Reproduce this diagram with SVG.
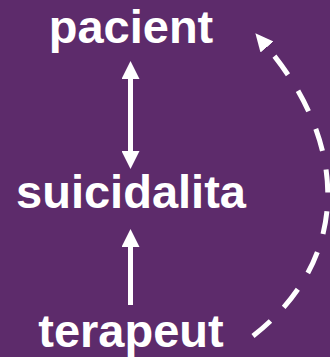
<svg xmlns="http://www.w3.org/2000/svg" width="330" height="357" viewBox="0 0 330 357">
<style>
.lbl{font-family:"Liberation Sans",Arial,sans-serif;font-weight:bold;font-size:47px;fill:#ffffff;text-anchor:middle}
.sh{stroke:#ffffff;stroke-width:5;fill:none}
.dash{stroke:#ffffff;stroke-width:5;fill:none;stroke-dasharray:23 19}
</style>
<defs>
<marker id="ah" markerUnits="userSpaceOnUse" markerWidth="18" markerHeight="18" refX="0" refY="9" orient="auto-start-reverse" viewBox="0 0 18 18">
<path d="M0,0 L18,9 L0,18 z" fill="#ffffff"/>
</marker>
<marker id="ahd" markerUnits="userSpaceOnUse" markerWidth="18" markerHeight="17" refX="0" refY="8.5" orient="auto" viewBox="0 0 18 17">
<path d="M0,0 L18,8.5 L0,17 z" fill="#ffffff"/>
</marker>
</defs>
<rect x="0" y="0" width="330" height="357" fill="#5d2b6b"/>
<g id="connectors">
<line class="sh" x1="130.5" y1="151" x2="130.5" y2="79" marker-start="url(#ah)" marker-end="url(#ah)"/>
<line class="sh" x1="130.5" y1="305" x2="130.5" y2="247" marker-end="url(#ah)"/>
<path class="dash" d="M253,336 C351.6,259.2 349,144 267,47" marker-end="url(#ahd)"/>
</g>
<g id="pacient"><text class="lbl" x="131" y="43">pacient</text></g>
<g id="suicidalita"><text class="lbl" x="131" y="208">suicidalita</text></g>
<g id="terapeut"><text class="lbl" x="131" y="347">terapeut</text></g>
</svg>
